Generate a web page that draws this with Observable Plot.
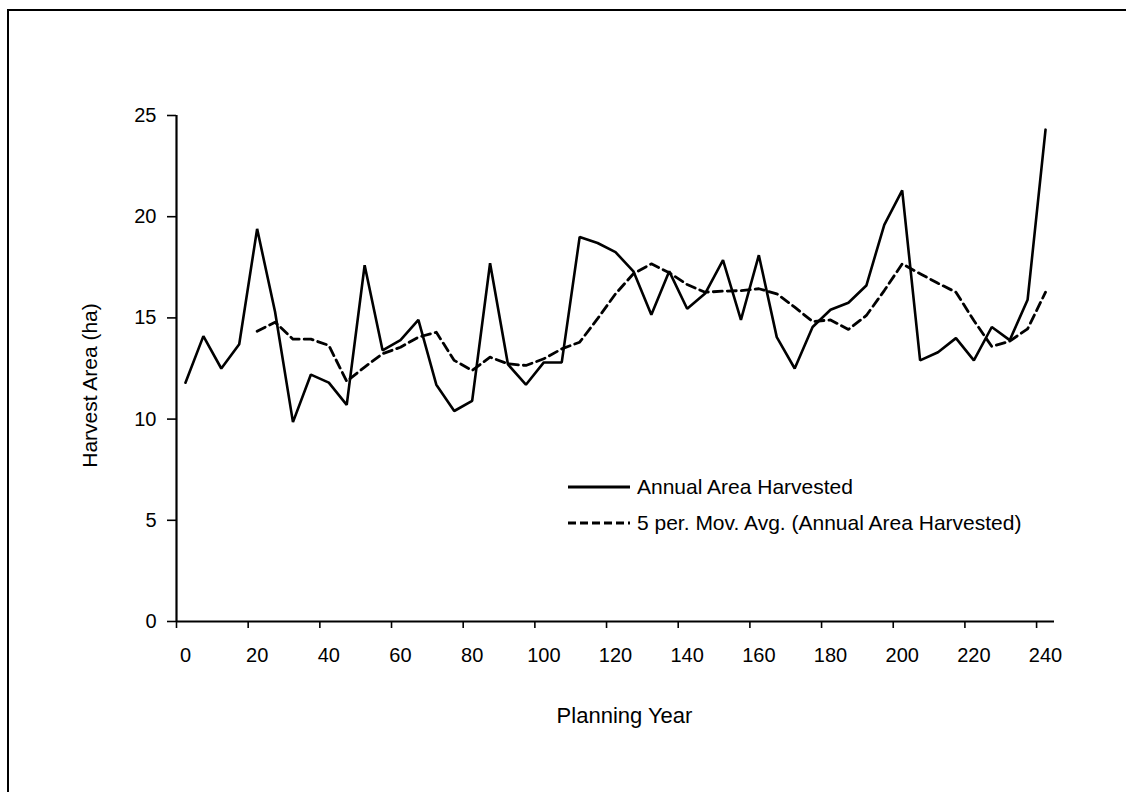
<!DOCTYPE html>
<html>
<head>
<meta charset="utf-8">
<script src="https://cdn.jsdelivr.net/npm/d3@7"></script>
<script src="https://cdn.jsdelivr.net/npm/@observablehq/plot@0.6"></script>
<style>
  html, body { margin: 0; padding: 0; background: #fff; }
  #wrap { position: relative; width: 1126px; height: 792px; overflow: hidden; }
  #frame { position: absolute; left: 7px; top: 9px; width: 1126px; height: 800px;
           border-left: 2px solid #000; border-top: 2px solid #000; pointer-events: none; }
  #legend { position: absolute; left: 568px; top: 469px; font-family: "Liberation Sans", Arial, sans-serif;
            font-size: 21px; color: #000; }
  #legend .row { display: flex; align-items: center; height: 36px; }
  #legend svg { margin-right: 7px; }
</style>
</head>
<body>
<div id="wrap">
  <div id="chart"></div>
  <div id="frame"></div>
  <div id="legend"></div>
</div>
<script>
// Planning years (one value per 5-year period)
const years = [0,5,10,15,20,25,30,35,40,45,50,55,60,65,70,75,80,85,90,95,
  100,105,110,115,120,125,130,135,140,145,150,155,160,165,170,175,180,185,190,195,
  200,205,210,215,220,225,230,235,240];

// Annual Area Harvested (ha)
const annualArea = [11.8,14.1,12.5,13.7,19.4,15.3,9.85,12.2,11.8,10.7,17.6,13.4,13.9,14.9,11.7,10.4,10.9,17.7,12.7,11.7,
  12.8,12.8,19.0,18.7,18.25,17.3,15.15,17.3,15.45,16.2,17.85,14.9,18.1,14.05,12.5,14.55,15.4,15.75,16.6,19.6,
  21.3,12.9,13.3,14.0,12.9,14.55,13.9,15.9,24.3];

// 5 per. Mov. Avg. (Annual Area Harvested) — first value at the 5th period
const movAvg = [null,null,null,null,14.34,14.79,13.95,13.95,13.64,11.87,12.57,13.23,13.55,14.05,14.29,12.9,12.4,13.06,12.73,12.65,
  12.98,13.47,13.8,14.96,16.19,17.18,17.67,17.23,16.65,16.27,16.32,16.35,16.44,16.19,15.53,14.82,14.9,14.43,15.12,16.35,
  17.67,17.18,16.71,16.27,14.87,13.59,13.85,14.46,16.27];

// Tick labels (at categories) and tick marks (between categories)
const xTicks = [0,20,40,60,80,100,120,140,160,180,200,220,240];
const xTickMarks = [-2.5,17.5,37.5,57.5,77.5,97.5,117.5,137.5,157.5,177.5,197.5,217.5,237.5];
const yTicks = [0,5,10,15,20,25];

const seriesNames = ["Annual Area Harvested", "5 per. Mov. Avg. (Annual Area Harvested)"];

const annualData = years.map((x, i) => ({x, y: annualArea[i]}));
const avgData = years.map((x, i) => ({x, y: movAvg[i]})).filter(d => d.y != null);

const font = "'Liberation Sans', Arial, sans-serif";

const chart = Plot.plot({
  width: 1126,
  height: 792,
  marginLeft: 176,
  marginRight: 72,
  marginTop: 115,
  marginBottom: 171,
  style: {fontFamily: font, fontSize: "20px", color: "#000", background: "transparent"},
  x: {domain: [-2.5, 242.5]},
  y: {domain: [0, 25]},
  marks: [
    Plot.axisX({ticks: xTickMarks, tickSize: 7, strokeWidth: 1.6, tickFormat: () => "", label: null}),
    Plot.axisX({ticks: xTicks, tickSize: 0, tickPadding: 26, fontSize: 20, label: null}),
    Plot.axisY({ticks: yTicks, tickSize: 9, tickPadding: 11, strokeWidth: 1.6, fontSize: 20, label: null}),
    Plot.text(["Planning Year"], {frameAnchor: "bottom", dy: 101, dx: 9, fontSize: 22}),
    Plot.text(["Harvest Area (ha)"], {frameAnchor: "left", rotate: -90, textAnchor: "middle", dx: -86, dy: 17, fontSize: 21}),
    Plot.ruleY([0], {strokeWidth: 2.2}),
    Plot.ruleX([-2.5], {strokeWidth: 2.2}),
    Plot.line(annualData, {x: "x", y: "y", stroke: "#000", strokeWidth: 2.6, strokeLinejoin: "miter"}),
    Plot.line(avgData, {x: "x", y: "y", stroke: "#000", strokeWidth: 2.8, strokeDasharray: "9,5"})
  ]
});
document.getElementById("chart").appendChild(chart);

// Legend
const legend = d3.select("#legend");
seriesNames.forEach((name, i) => {
  const row = legend.append("div").attr("class", "row");
  const s = row.append("svg").attr("width", 62).attr("height", 10);
  s.append("line").attr("x1", 0).attr("x2", 62).attr("y1", 5).attr("y2", 5)
    .attr("stroke", "#000").attr("stroke-width", 2.8)
    .attr("stroke-dasharray", i === 0 ? null : "8,4");
  row.append("span").text(name);
});
</script>
</body>
</html>
